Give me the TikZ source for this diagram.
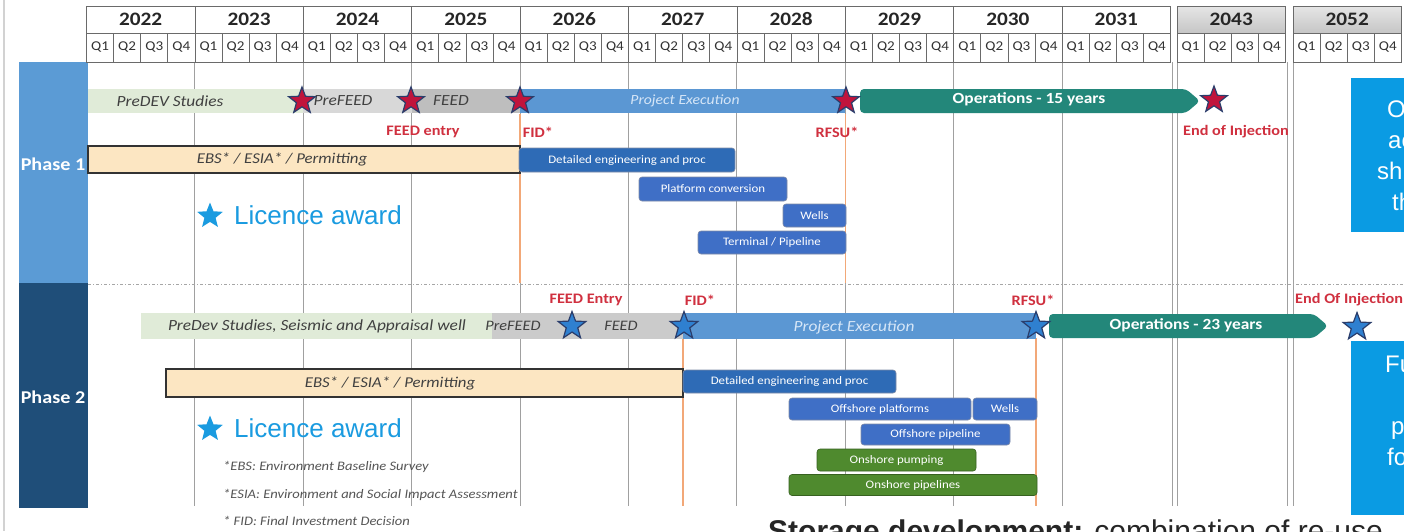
\documentclass[tikz,border=0pt]{standalone}
\usepackage{fontspec}
\setmainfont[FakeStretch=1.12]{Carlito}
\newfontfamily\arialf{Liberation Sans}
\usetikzlibrary{shapes.geometric}
\definecolor{hdrline}{HTML}{6A6A6A}
\definecolor{gridc}{HTML}{A0A0A0}
\definecolor{orangeline}{HTML}{F2A878}
\definecolor{phaseone}{HTML}{5B9BD5}
\definecolor{phasetwo}{HTML}{1F4E79}
\definecolor{predev}{HTML}{E0EBD8}
\definecolor{prefeedc}{HTML}{D8D8D8}
\definecolor{feedc}{HTML}{BEBEBE}
\definecolor{execc}{HTML}{5B97D3}
\definecolor{opsc}{HTML}{23877A}
\definecolor{taskdark}{HTML}{2E6BB6}
\definecolor{taskblue}{HTML}{3F6FC6}
\definecolor{taskgreen}{HTML}{4F8A2E}
\definecolor{ebsc}{HTML}{FCE6C2}
\definecolor{redlab}{HTML}{D0303F}
\definecolor{redstar}{HTML}{C0143C}
\definecolor{navy}{HTML}{2A3D6B}
\definecolor{bluestar}{HTML}{2F80D0}
\definecolor{licblue}{HTML}{1A9BE0}
\definecolor{sidebox}{HTML}{0A9BE3}
\definecolor{footc}{HTML}{555555}
\definecolor{exectext}{HTML}{D6E6F7}
\begin{document}
\begin{tikzpicture}[x=1pt,y=-1pt,
  yearcell/.style={draw=hdrline, line width=0.8pt, minimum width=108.4pt, minimum height=27pt, inner sep=0pt, outer sep=0pt, anchor=north west, font=\fontsize{19}{20}\selectfont\bfseries, text=black!85},
  qcell/.style={draw=hdrline, line width=0.8pt, minimum width=27.1pt, minimum height=29pt, inner sep=0pt, outer sep=0pt, anchor=north west, font=\fontsize{13.5}{14}\selectfont, text=black!80},
  gridln/.style={draw=gridc, line width=0.9pt},
  orl/.style={draw=orangeline, line width=1.4pt},
  task/.style={rounded corners=3pt, draw=navy!60, line width=0.6pt, inner sep=0pt, outer sep=0pt, anchor=west, text=white, font=\fontsize{11.5}{12}\selectfont},
  bartext/.style={inner sep=0pt, font=\fontsize{15.5}{16}\selectfont\itshape, text=black!75},
  redlabel/.style={inner sep=0pt, font=\fontsize{14.5}{16}\selectfont\bfseries, text=redlab},
  rstar/.style={star, star points=5, star point ratio=2.4, fill=redstar, draw=navy, line width=1.2pt, minimum size=28pt, inner sep=0pt},
  bstar/.style={star, star points=5, star point ratio=2.4, fill=bluestar, draw=navy, line width=1.2pt, minimum size=29pt, inner sep=0pt},
  licstar/.style={star, star points=5, star point ratio=2.3, fill=licblue, minimum size=27pt, inner sep=0pt},
  lictext/.style={inner sep=0pt, anchor=west, font=\arialf\fontsize{26}{27}\selectfont, text=licblue},
  foot/.style={inner sep=0pt, anchor=west, font=\fontsize{13}{14}\selectfont\itshape, text=footc},
  sidetext/.style={inner sep=0pt, anchor=base west, font=\arialf\fontsize{24}{25}\selectfont, text=white},
  phasetext/.style={inner sep=0pt, font=\fontsize{18}{19}\selectfont\bfseries, text=white}
]
\useasboundingbox (0,0) rectangle (1404,531);
\clip (0,0) rectangle (1404,531);
\fill[white] (0,0) rectangle (1404,531);
% left frame line
\draw[gray!35, line width=1.5pt] (4,0) -- (4,531);

% phase boxes
\fill[phaseone] (19,62) rectangle (88,283);
\fill[phasetwo] (19,283) rectangle (88,508);
\node[phasetext] (ph1) at (53,164) {Phase 1};
\node[phasetext] (ph2) at (53,397) {Phase 2};

% grid lines
\foreach \gx in {194.9,303.3,411.7,520.1,628.5,736.9,845.3,953.7,1062.1,1172,1177,1287,1293}
  \draw[gridln] (\gx,62) -- (\gx,506);
% phase divider
\draw[gray!70, line width=1pt, dash pattern=on 3pt off 2pt on 1pt off 2pt] (88,284) -- (1404,284);

% header
\foreach \k/\yr in {0/2022,1/2023,2/2024,3/2025,4/2026,5/2027,6/2028,7/2029,8/2030,9/2031} {
  \pgfmathsetmacro\xa{86.5+108.4*\k}
  \node[yearcell] (Y\yr) at (\xa,6) {\yr};
  \foreach \q in {1,2,3,4} {
    \node[qcell] (Q\yr\q) at ({\xa+27.1*(\q-1)},33) {Q\q};
  }
}
\foreach \xa/\yr in {1177/2043,1293/2052} {
  \node[yearcell, top color=gray!20, bottom color=gray!45] (Y\yr) at (\xa,6) {\yr};
  \foreach \q in {1,2,3,4} {
    \node[qcell] (Q\yr\q) at ({\xa+27.1*(\q-1)},33) {Q\q};
  }
}

% orange milestone lines
\draw[orl] (520.1,114) -- (520.1,283);
\draw[orl] (845.3,114) -- (845.3,283);
\draw[orl] (683,338) -- (683,506);
\draw[orl] (1036,338) -- (1036,506);

% ---------- Phase 1 bar ----------
\fill[predev] (88,89) rectangle (303.3,113);
\fill[prefeedc] (303.3,89) rectangle (411.7,113);
\fill[feedc] (411.7,89) rectangle (520.1,113);
\fill[execc] (520.1,89) rectangle (845.3,113);
\fill[opsc, rounded corners=4pt] (860,89) -- (1186,89) -- (1200,101) -- (1186,113) -- (860,113) -- cycle;
\node[bartext] (p1predev) at (170,101) {PreDEV Studies};
\node[bartext] (p1prefeed) at (343,101) {PreFEED};
\node[bartext] (p1feed) at (451,101) {FEED};
\node[bartext, text=exectext, font=\fontsize{14}{15}\selectfont\itshape] (p1exec) at (685,101) {Project Execution};
\node[inner sep=0pt, text=white, font=\fontsize{15.5}{16}\selectfont\bfseries] (p1ops) at (1029,99) {Operations - 15 years};
\node[rstar] (s11) at (302,101) {};
\node[rstar] (s12) at (411,101) {};
\node[rstar] (s13) at (520,101) {};
\node[rstar] (s14) at (846,101) {};
\node[rstar] (s15) at (1214,100) {};
\node[redlabel] (l11) at (423,132) {FEED entry};
\node[redlabel] (l12) at (538,132) {FID*};
\node[redlabel] (l13) at (837,132) {RFSU*};
\node[redlabel] (l14) at (1236,132) {End of Injection};

% EBS phase 1
\draw[fill=ebsc, draw=black!80, line width=1.3pt] (88,146) rectangle (520,173);
\node[bartext, font=\fontsize{15}{16}\selectfont\itshape] (ebs1) at (282,159) {EBS* / ESIA* / Permitting};

% tasks phase 1
\node[task, fill=taskdark, minimum width=216pt, minimum height=24pt] (t1a) at (519,160) {Detailed engineering and proc};
\node[task, fill=taskblue, minimum width=148pt, minimum height=24pt] (t1b) at (639,189) {Platform conversion};
\node[task, fill=taskblue, minimum width=63pt, minimum height=23pt] (t1c) at (783,215.5) {Wells};
\node[task, fill=taskblue, minimum width=148pt, minimum height=23pt] (t1d) at (698,242.5) {Terminal / Pipeline};

% licence award phase 1
\node[licstar] (lic1) at (210,216) {};
\node[lictext] (lict1) at (234,215) {Licence award};

% ---------- Phase 2 bar ----------
\fill[predev] (141,313) rectangle (492,339);
\fill[feedc!80!white] (492,313) rectangle (683,339);
\fill[execc] (683,313) rectangle (1036,339);
\fill[opsc, rounded corners=4pt] (1049,314) -- (1314,314) -- (1328,326) -- (1314,338) -- (1049,338) -- cycle;
\node[bartext] (p2predev) at (317,326) {PreDev Studies, Seismic and Appraisal well};
\node[bartext, font=\fontsize{14.5}{15}\selectfont\itshape] (p2prefeed) at (513,326) {PreFEED};
\node[bartext, font=\fontsize{14.5}{15}\selectfont\itshape] (p2feed) at (621,326) {FEED};
\node[bartext, text=exectext] (p2exec) at (854,327) {Project Execution};
\node[inner sep=0pt, text=white, font=\fontsize{15.5}{16}\selectfont\bfseries] (p2ops) at (1186,325) {Operations - 23 years};
\node[bstar] (s21) at (572,326) {};
\node[bstar] (s22) at (684,326) {};
\node[bstar] (s23) at (1036,326) {};
\node[bstar] (s24) at (1357,327) {};
\node[redlabel] (l21) at (586,300) {FEED Entry};
\node[redlabel] (l22) at (700,300) {FID*};
\node[redlabel] (l23) at (1033,300) {RFSU*};
\node[redlabel, anchor=west] (l24) at (1295,300) {End Of Injection};

% EBS phase 2
\draw[fill=ebsc, draw=black!80, line width=1.3pt] (166,369) rectangle (683,397);
\node[bartext, font=\fontsize{15}{16}\selectfont\itshape] (ebs2) at (390,383) {EBS* / ESIA* / Permitting};

% tasks phase 2
\node[task, fill=taskdark, minimum width=213pt, minimum height=23pt] (t2a) at (683,381.5) {Detailed engineering and proc};
\node[task, fill=taskblue, minimum width=182pt, minimum height=22pt] (t2b) at (789,409) {Offshore platforms};
\node[task, fill=taskblue, minimum width=64pt, minimum height=22pt] (t2c) at (973,409) {Wells};
\node[task, fill=taskblue, minimum width=149pt, minimum height=21pt] (t2d) at (861,434.5) {Offshore pipeline};
\node[task, fill=taskgreen, draw=taskgreen!70!black, minimum width=159pt, minimum height=22pt] (t2e) at (817,460) {Onshore pumping};
\node[task, fill=taskgreen, draw=taskgreen!70!black, minimum width=248pt, minimum height=21pt] (t2f) at (789,485) {Onshore pipelines};

% licence award phase 2
\node[licstar] (lic2) at (210,429) {};
\node[lictext] (lict2) at (234,428) {Licence award};

% footnotes
\node[foot] (f1) at (223,467) {*EBS: Environment Baseline Survey};
\node[foot] (f2) at (223,495) {*ESIA: Environment and Social Impact Assessment};
\node[foot] (f3) at (223,521) {* FID: Final Investment Decision};

% side boxes (text continues beyond the picture's right edge, as in the reference)
\fill[sidebox] (1351,78) rectangle (1404,232);
\node[sidetext] (sb1) at (1387,117) {O};
\node[sidetext] (sb2) at (1388,148) {ac};
\node[sidetext] (sb3) at (1377,179) {sh};
\node[sidetext] (sb4) at (1392,210) {th};
\fill[sidebox] (1351,341) rectangle (1404,515);
\node[sidetext] (sc1) at (1385,372) {Fu};
\node[sidetext] (sc2) at (1391,434) {p};
\node[sidetext] (sc3) at (1387,465) {fo};

% bottom caption (partly out of view)
\node[inner sep=0pt, anchor=base west, font=\arialf\fontsize{30}{31}\selectfont, text=black!85] (cap) at (768,541) {\textbf{Storage development:} combination of re-use};
\end{tikzpicture}
\end{document}
